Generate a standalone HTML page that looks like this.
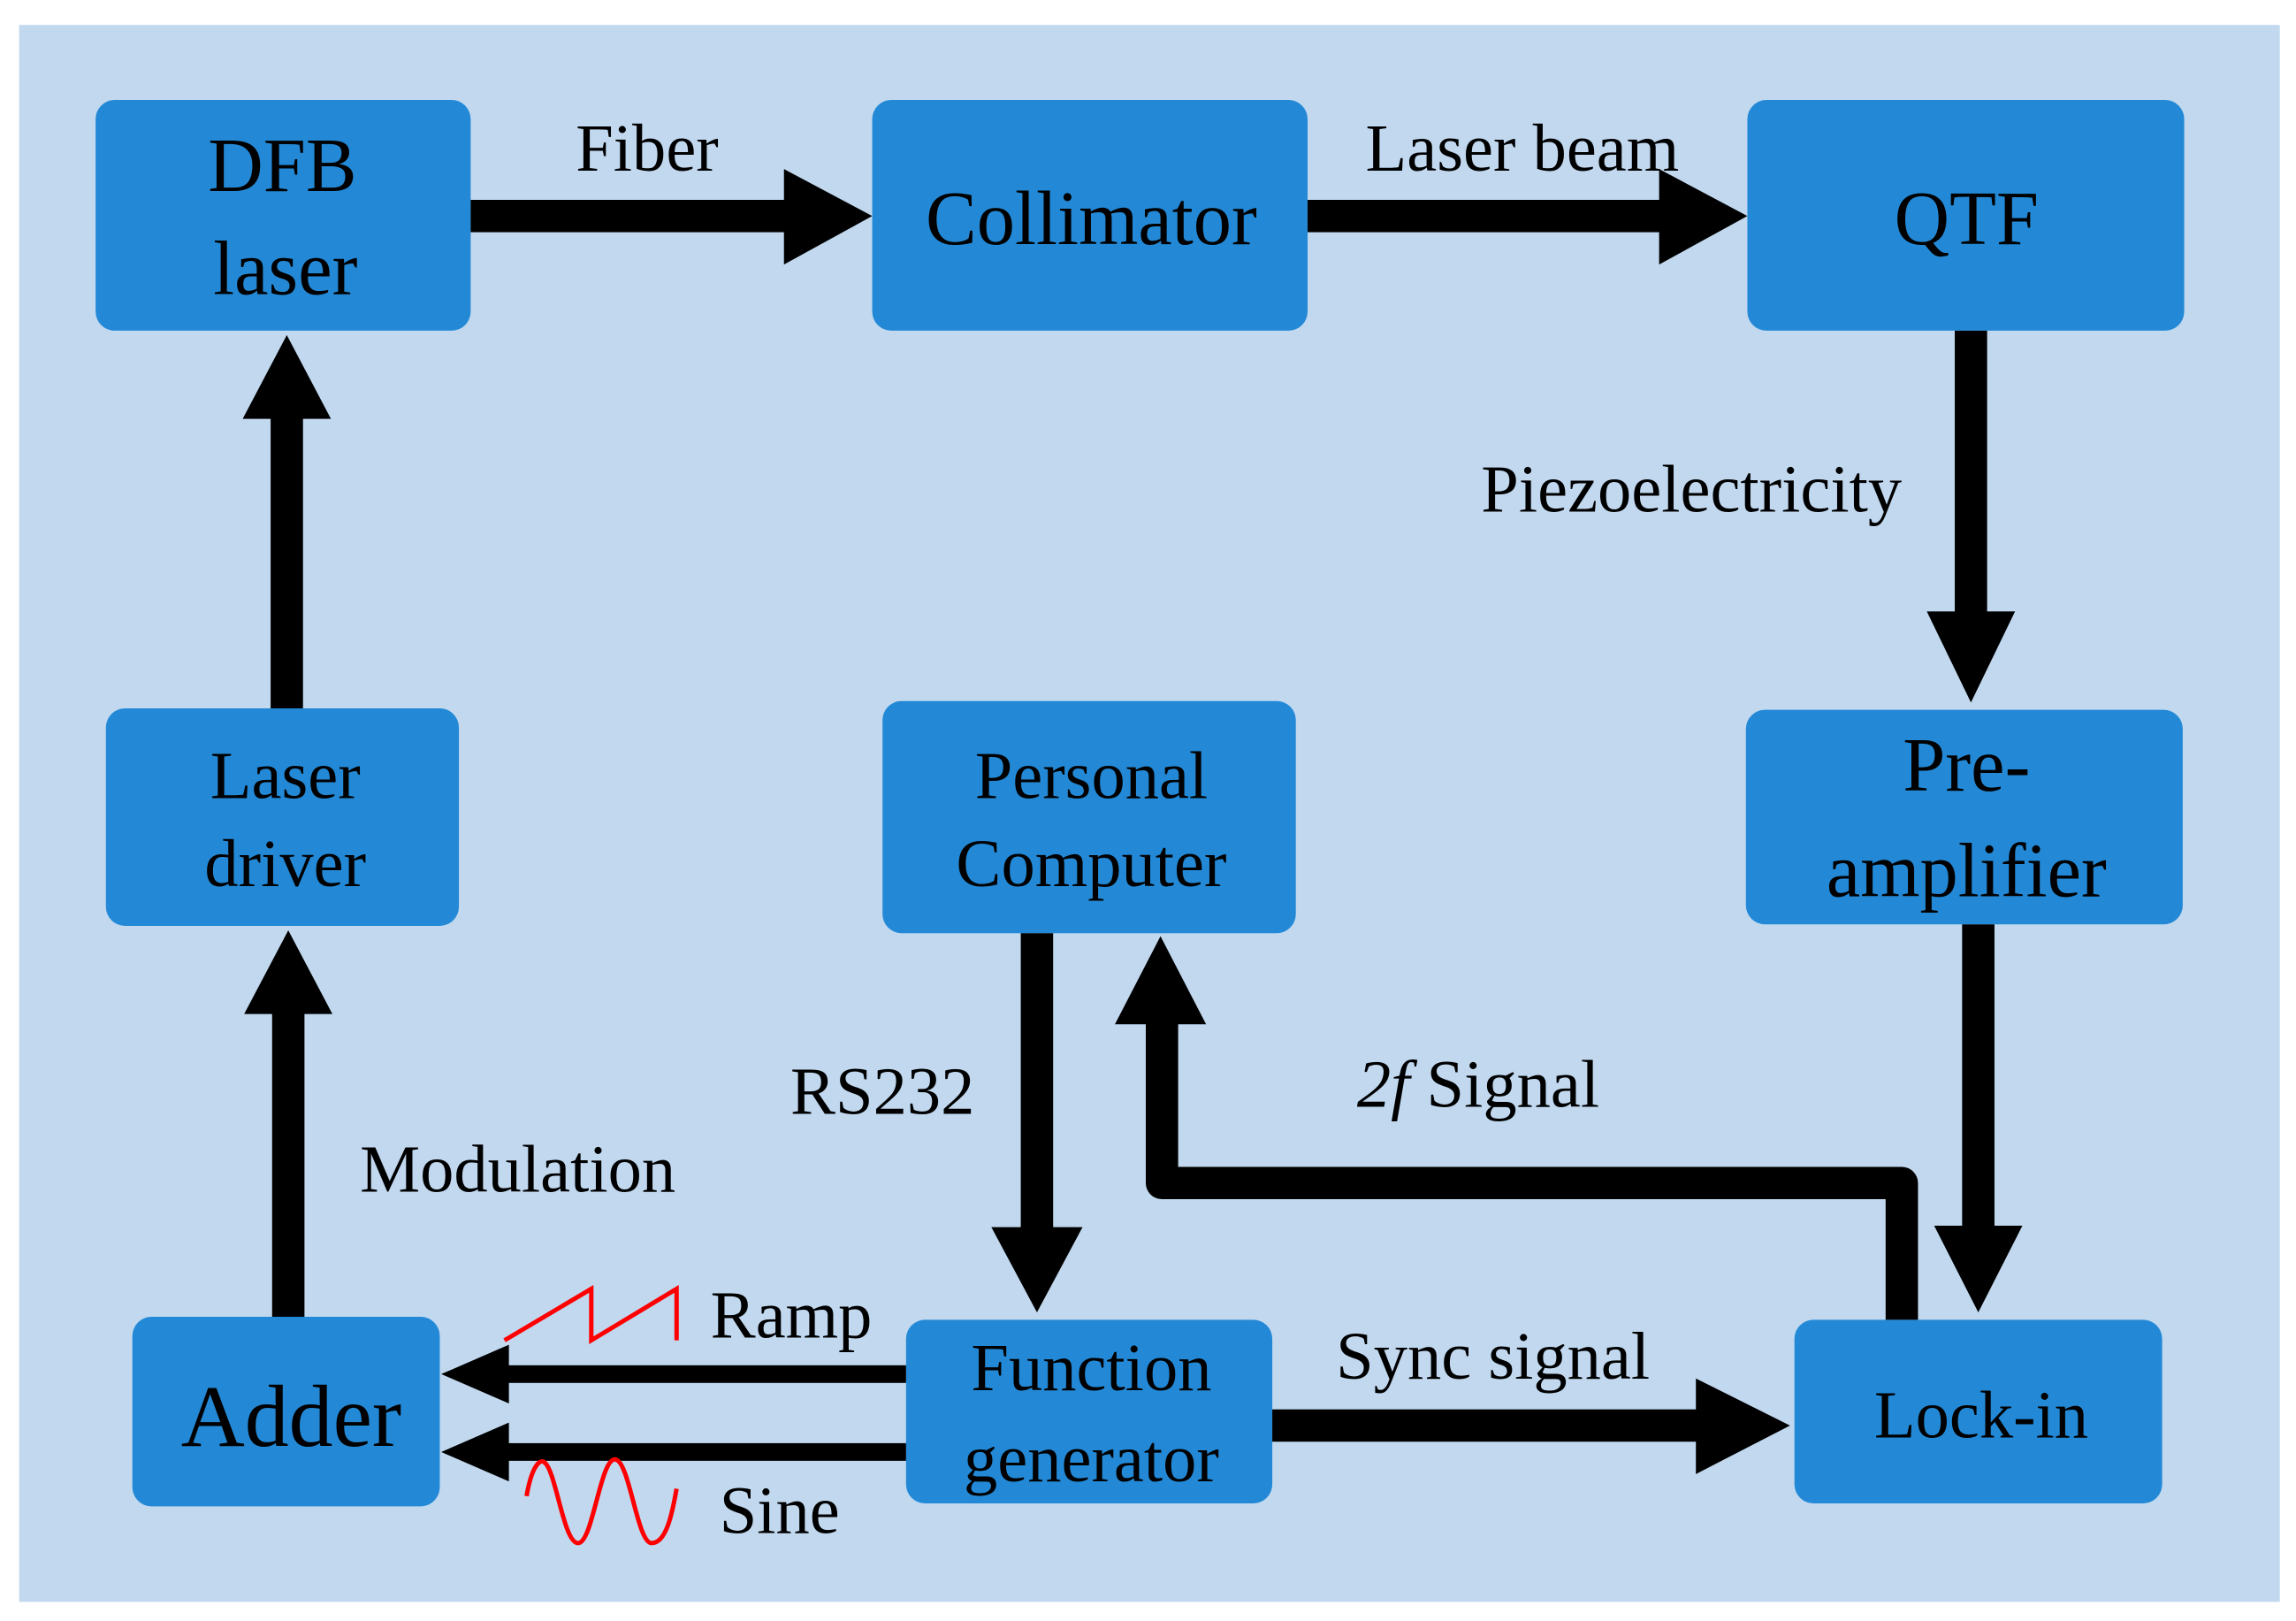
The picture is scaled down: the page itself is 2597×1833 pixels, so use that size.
<!DOCTYPE html>
<html><head><meta charset="utf-8"><style>
html,body{margin:0;padding:0;background:#fff;}
svg{display:block;}
text{font-family:"Liberation Serif",serif;fill:#000;text-anchor:middle;}
</style></head><body>
<svg width="2597" height="1833" viewBox="0 0 1561 1103" preserveAspectRatio="none" xmlns="http://www.w3.org/2000/svg">
<rect x="0" y="0" width="1561" height="1103" fill="#fff"/>
<rect x="13" y="17" width="1537" height="1073" fill="#c1d8ef"/>
<g fill="#2389d6">
<rect x="65" y="68" width="255" height="157" rx="13"/>
<rect x="593" y="68" width="296" height="157" rx="13"/>
<rect x="1188" y="68" width="297" height="157" rx="13"/>
<rect x="72" y="482" width="240" height="148" rx="13"/>
<rect x="600" y="477" width="281" height="158" rx="13"/>
<rect x="1187" y="483" width="297" height="146" rx="13"/>
<rect x="90" y="896" width="209" height="129" rx="13"/>
<rect x="616" y="898" width="249" height="125" rx="13"/>
<rect x="1220" y="898" width="250" height="125" rx="13"/>
</g>
<g fill="#000">
<rect x="320" y="136" width="218" height="22"/><polygon points="533,115 593,147 533,180"/>
<rect x="889" y="136" width="244" height="22"/><polygon points="1128,115 1188,147 1128,180"/>
<rect x="1329" y="225" width="22" height="196"/><polygon points="1310,416 1370,416 1340,478"/>
<rect x="1334" y="629" width="22" height="210"/><polygon points="1315,834 1375,834 1345,893"/>
<rect x="184" y="280" width="22" height="202"/><polygon points="165,285 225,285 195,228"/>
<rect x="185" y="688" width="22" height="208"/><polygon points="166,690 226,690 196,633"/>
<rect x="694" y="635" width="22" height="205"/><polygon points="674,835 736,835 705,893"/>
<rect x="865" y="959" width="293" height="22"/><polygon points="1153,938 1217,970 1153,1003"/>
<rect x="335" y="929" width="281" height="12"/><polygon points="346,915 300,935 346,955"/>
<rect x="335" y="982" width="281" height="12"/><polygon points="346,968 300,988 346,1008"/>
</g>
<path d="M1293,898 V805 H790 V693" fill="none" stroke="#000" stroke-width="22" stroke-linejoin="round"/>
<polygon points="758,697 820,697 789,637" fill="#000"/>
<polyline points="343,912 402,877 402,912 460,877 460,912" fill="none" stroke="#f00" stroke-width="3"/>
<path d="M358,1018 C362,995 368,993 370,995 C378,1000 383,1050 393,1050 C403,1050 408,993 418,993 C428,993 433,1050 443,1050 C453,1050 457,1030 460,1013" fill="none" stroke="#f00" stroke-width="3"/>
<g font-size="52">
<text x="192" y="130">DFB</text>
<text x="194" y="200">laser</text>
<text x="742" y="166">Collimator</text>
<text x="1337" y="166">QTF</text>
<text x="1337" y="538">Pre-</text>
<text x="1337" y="610">amplifier</text>
</g>
<g font-size="46">
<text x="194" y="543">Laser</text>
<text x="194" y="603">driver</text>
<text x="742" y="543">Personal</text>
<text x="742" y="603">Computer</text>
<text x="742" y="946">Function</text>
<text x="742" y="1008">generator</text>
<text x="1347" y="978">Lock-in</text>
<text x="440" y="116">Fiber</text>
<text x="1035" y="116">Laser beam</text>
<text x="1150" y="348">Piezoelectricity</text>
<text x="600" y="758">RS232</text>
<text x="1005" y="753"><tspan font-style="italic">2f</tspan> Signal</text>
<text x="352" y="811">Modulation</text>
<text x="538" y="910">Ramp</text>
<text x="1015" y="938">Sync signal</text>
<text x="530" y="1043">Sine</text>
</g>
<text x="198" y="984" font-size="60">Adder</text>
</svg>
</body></html>
